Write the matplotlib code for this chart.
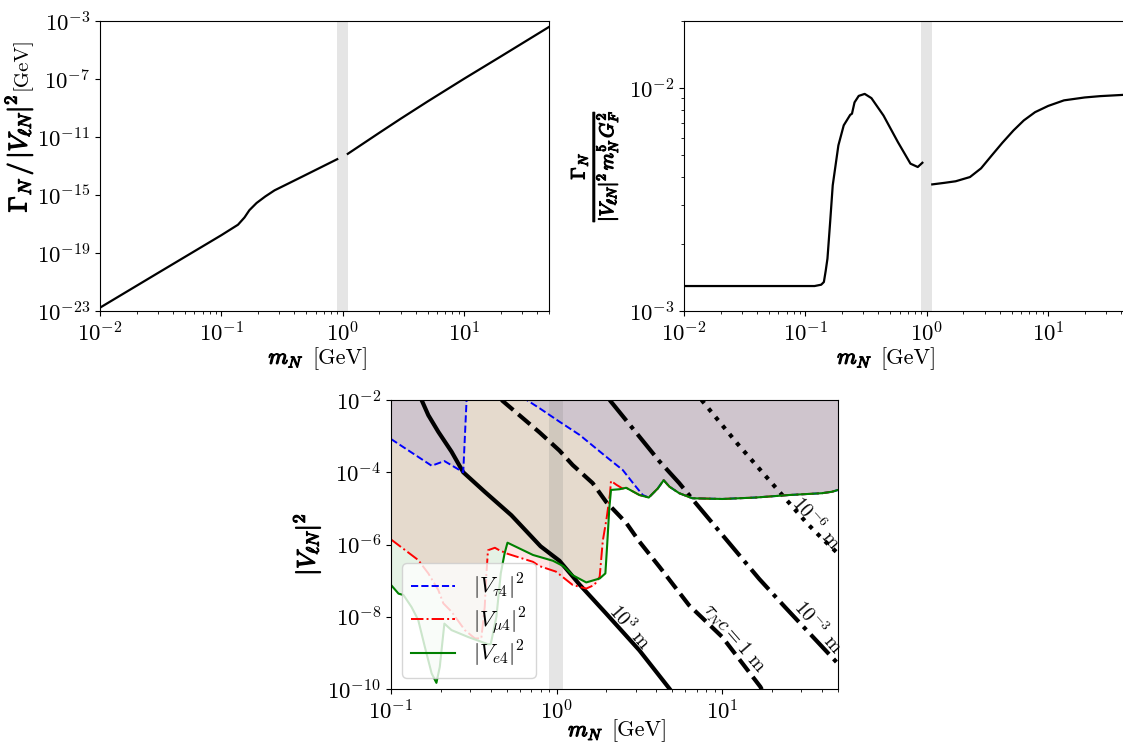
import numpy as np
import matplotlib
matplotlib.use('Agg')
import matplotlib.pyplot as plt
import matplotlib.patheffects as pe
from matplotlib.ticker import NullLocator

plt.rcParams['mathtext.fontset'] = 'cm'
plt.rcParams['font.family'] = 'serif'
plt.rcParams['font.serif'] = ['cmr10']
plt.rcParams['axes.formatter.use_mathtext'] = True
plt.rcParams['axes.unicode_minus'] = False

# ---- panel (a): total width Gamma_N / |V|^2 [GeV], values as log10 ----
m_gam_lo = [0.01, 0.03, 0.1, 0.137, 0.155, 0.17, 0.195, 0.23, 0.274, 0.35, 0.472, 0.65, 0.9]
log_gam_lo = [-22.77, -20.38, -17.77, -17.05, -16.55, -16.05, -15.55, -15.1, -14.68,
              -14.24, -13.70, -13.12, -12.53]
m_gam_hi = [1.1, 2.0, 3.0, 5.0, 10, 20, 50]
log_gam_hi = [-12.16, -10.71, -9.74, -8.55, -6.98, -5.45, -3.41]

# ---- panel (b): Gamma_N / (|V|^2 m^5 G_F^2), log10 ----
m_rat_lo = [0.01, 0.05, 0.119, 0.135, 0.142, 0.147, 0.152, 0.16, 0.168, 0.187, 0.207,
            0.234, 0.242, 0.254, 0.275, 0.308, 0.35, 0.44, 0.578, 0.734, 0.843, 0.92]
log_rat_lo = [-2.888, -2.888, -2.888, -2.882, -2.87, -2.82, -2.765, -2.6, -2.436, -2.257,
              -2.167, -2.12, -2.115, -2.064, -2.035, -2.026, -2.045, -2.123, -2.242,
              -2.339, -2.354, -2.335]
m_rat_hi = [1.11, 1.4, 1.73, 2.27, 2.8, 3.43, 4.2, 5.18, 6.3, 7.8, 10, 13.5, 20, 26.9, 50]
log_rat_hi = [-2.432, -2.425, -2.418, -2.399, -2.36, -2.302, -2.245, -2.19, -2.145, -2.108,
              -2.08, -2.055, -2.042, -2.036, -2.028]

# ---- panel (c): mixing limits |V_lN|^2, log10 ----
m_tau = [0.1, 0.176, 0.21, 0.273, 0.286, 0.29, 0.62, 0.66, 0.79, 1.04, 1.38, 1.99, 2.51,
         2.95, 3.31, 3.6, 4.08, 4.43, 4.8, 5.5, 6.6, 10, 15.9, 25.4, 40, 46, 50]
log_tau = [-3.08, -3.82, -3.69, -4.0, -2.0, -1.0, -1.0, -2.0, -2.23, -2.6, -2.97, -3.57,
           -3.94, -4.35, -4.63, -4.7, -4.45, -4.22, -4.4, -4.58, -4.72, -4.74, -4.70,
           -4.63, -4.58, -4.54, -4.49]

m_mu = [0.1, 0.146, 0.168, 0.193, 0.207, 0.232, 0.279, 0.321, 0.351, 0.368, 0.377, 0.385,
        0.424, 0.443, 0.5, 0.72, 0.79, 0.99, 1.25, 1.51, 1.69, 1.82, 1.9, 2.0, 2.1, 2.13,
        2.3, 2.5, 2.63, 3.16, 3.6, 4.08, 4.43, 4.8, 5.5, 6.6, 10, 15.9, 25.4, 40, 46, 50]
log_mu = [-5.86, -6.43, -6.80, -7.26, -7.63, -7.86, -8.37, -8.60, -8.6, -7.73, -6.8, -6.16,
          -6.09, -6.14, -6.25, -6.48, -6.6, -6.75, -7.12, -7.22, -7.12, -6.89, -5.9, -5.3,
          -4.6, -4.24, -4.35, -4.45, -4.43, -4.63, -4.7, -4.45, -4.22, -4.4, -4.58, -4.72,
          -4.74, -4.70, -4.63, -4.58, -4.54, -4.49]

m_e = [0.1, 0.111, 0.119, 0.133, 0.146, 0.16, 0.176, 0.188, 0.197, 0.21, 0.232, 0.292,
       0.385, 0.4, 0.433, 0.46, 0.485, 0.505, 0.72, 0.95, 1.1, 1.25, 1.51, 1.82, 1.97,
       2.02, 2.08, 2.13, 2.4, 2.63, 3.16, 3.6, 4.08, 4.43, 4.8, 5.5, 6.6, 10, 15.9, 25.4,
       40, 46, 50]
log_e = [-7.12, -7.36, -7.40, -7.73, -8.09, -8.83, -9.57, -9.83, -9.39, -8.19, -8.37,
         -8.56, -8.76, -8.76, -8.0, -6.8, -6.25, -5.95, -6.29, -6.45, -6.6, -6.85, -7.05,
         -6.94, -6.8, -6.0, -5.0, -4.49, -4.47, -4.43, -4.63, -4.7, -4.45, -4.22, -4.4,
         -4.58, -4.72, -4.74, -4.70, -4.63, -4.58, -4.54, -4.49]

# lifetime contours tau_N c = L
m_L1e3 = [0.153, 0.168, 0.193, 0.232, 0.273, 0.368, 0.533, 0.8, 1.04, 1.37, 1.99, 3.16, 4.8, 5.0]
log_L1e3 = [-2.0, -2.42, -2.88, -3.43, -4.0, -4.54, -5.19, -6.05, -6.45, -7.1, -7.91, -8.93,
            -9.99, -10.1]
m_L1 = [0.465, 0.79, 1.04, 1.25, 1.65, 1.99, 2.63, 3.16, 4.18, 6.3, 10, 17.0, 17.5]
log_L1 = [-2.0, -2.9, -3.4, -3.8, -4.3, -4.82, -5.4, -5.92, -6.62, -7.68, -8.56, -9.94, -10.05]
m_L1em3 = [2.09, 3.48, 4.18, 5.5, 6.9, 11.2, 16.7, 23.9, 50]
log_L1em3 = [-2.0, -3.25, -3.7, -4.3, -4.85, -6.0, -6.95, -7.73, -9.3]
m_L1em6 = [7.5, 12.3, 20, 32.6, 40, 50]
log_L1em6 = [-2.0, -3.2, -4.31, -5.42, -5.83, -6.25]

band = (0.9, 1.1)

W, H = 1123, 742
fig = plt.figure(figsize=(W / 100, H / 100), dpi=100)
bold = [pe.withStroke(linewidth=0.9, foreground='black')]


def box(l, r, t, b):
    return [l / W, 1 - b / H, (r - l) / W, (b - t) / H]


def mass_label(ax, dx=-9, dy=-38):
    # bold m_N followed by plain [GeV], under the axes
    ax.annotate(r'$m_N$', xy=(0.5, 0), xycoords='axes fraction', xytext=(dx - 6, dy),
                textcoords='offset points', ha='right', va='baseline', fontsize=16,
                path_effects=bold)
    ax.annotate('[GeV]', xy=(0.5, 0), xycoords='axes fraction', xytext=(dx, dy),
                textcoords='offset points', ha='left', va='baseline', fontsize=16)


# ---------------- top left ----------------
ax1 = fig.add_axes(box(100, 549, 21, 311))
ax1.axvspan(*band, color='grey', alpha=0.2, lw=0)
ax1.plot(m_gam_lo, 10 ** np.array(log_gam_lo), 'k-', lw=1.6)
ax1.plot(m_gam_hi, 10 ** np.array(log_gam_hi), 'k-', lw=1.6)
ax1.set_xscale('log')
ax1.set_yscale('log')
ax1.set_xlim(1e-2, 50)
ax1.set_ylim(1e-23, 1e-3)
ax1.set_yticks([1e-23, 1e-19, 1e-15, 1e-11, 1e-7, 1e-3])
ax1.yaxis.set_minor_locator(NullLocator())
ax1.tick_params(labelsize=16.5)
mass_label(ax1, dx=-9)
ax1.annotate(r'$\Gamma_N\,/\,|V_{\ell N}|^2$', xy=(0, 1), xycoords='axes fraction',
             xytext=(-53, -53), textcoords='offset points', rotation=90,
             rotation_mode='anchor', ha='right', va='baseline', fontsize=18.5,
             path_effects=bold)
ax1.annotate('[GeV]', xy=(0, 1), xycoords='axes fraction',
             xytext=(-53, -50), textcoords='offset points', rotation=90,
             rotation_mode='anchor', ha='left', va='baseline', fontsize=15)

# ---------------- top right ----------------
ax2 = fig.add_axes(box(684, 1133, 21, 311))
ax2.axvspan(*band, color='grey', alpha=0.2, lw=0)
ax2.plot(m_rat_lo, 10 ** np.array(log_rat_lo), 'k-', lw=1.6)
ax2.plot(m_rat_hi, 10 ** np.array(log_rat_hi), 'k-', lw=1.6)
ax2.set_xscale('log')
ax2.set_yscale('log')
ax2.set_xlim(1e-2, 50)
ax2.set_ylim(1e-3, 2e-2)
ax2.tick_params(labelsize=16.5)
mass_label(ax2, dx=-20)
ax2.set_ylabel(r'$\frac{\Gamma_N}{|V_{\ell N}|^2\, m_N^5\, G_F^2}$', fontsize=20, labelpad=6)
ax2.yaxis.label.set_path_effects(bold)

# ---------------- bottom ----------------
ax3 = fig.add_axes(box(391, 838, 400, 689))
ax3.set_xscale('log')
ax3.set_yscale('log')
ax3.fill_between(m_tau, 10 ** np.array(log_tau), 1e-2, color='blue', alpha=0.1, lw=0)
ax3.fill_between(m_mu, 10 ** np.array(log_mu), 1e-2, color='red', alpha=0.1, lw=0)
ax3.fill_between(m_e, 10 ** np.array(log_e), 1e-2, color='green', alpha=0.1, lw=0)
ax3.axvspan(*band, color='grey', alpha=0.2, lw=0)

ax3.plot(m_L1e3, 10 ** np.array(log_L1e3), 'k-', lw=3)
ax3.plot(m_L1, 10 ** np.array(log_L1), 'k--', lw=3)
ax3.plot(m_L1em3, 10 ** np.array(log_L1em3), 'k-.', lw=3)
ax3.plot(m_L1em6, 10 ** np.array(log_L1em6), 'k:', lw=3)

ax3.plot(m_tau, 10 ** np.array(log_tau), '--', color='blue', lw=1.4, label=r'$|V_{\tau 4}|^2$')
ax3.plot(m_mu, 10 ** np.array(log_mu), '-.', color='red', lw=1.4, label=r'$|V_{\mu 4}|^2$')
ax3.plot(m_e, 10 ** np.array(log_e), '-', color='green', lw=1.5, label=r'$|V_{e 4}|^2$')

rot = -49
ax3.text(2.75, 10 ** -8.29, r'$10^3$ m', rotation=rot, fontsize=14,
         ha='center', va='center', rotation_mode='anchor')
ax3.text(11.8, 10 ** -8.59, r'$\tau_N c = 1$ m', rotation=rot, fontsize=14,
         ha='center', va='center', rotation_mode='anchor')
ax3.text(37.8, 10 ** -8.29, r'$10^{-3}$ m', rotation=rot, fontsize=14,
         ha='center', va='center', rotation_mode='anchor')
ax3.text(36.8, 10 ** -5.41, r'$10^{-6}$ m', rotation=rot, fontsize=14,
         ha='center', va='center', rotation_mode='anchor', clip_on=True)

ax3.set_xlim(0.1, 50)
ax3.set_ylim(1e-10, 1e-2)
ax3.set_yticks([1e-10, 1e-8, 1e-6, 1e-4, 1e-2])
ax3.yaxis.set_minor_locator(NullLocator())
ax3.tick_params(labelsize=16.5)
mass_label(ax3, dx=-2, dy=-34)
ax3.set_ylabel(r'$|V_{\ell N}|^2$', fontsize=18, labelpad=4)
ax3.yaxis.label.set_path_effects(bold)
ax3.legend(loc='lower left', fontsize=16, handlelength=2.0, labelspacing=0.15)

fig.savefig('out.png', dpi=100)
